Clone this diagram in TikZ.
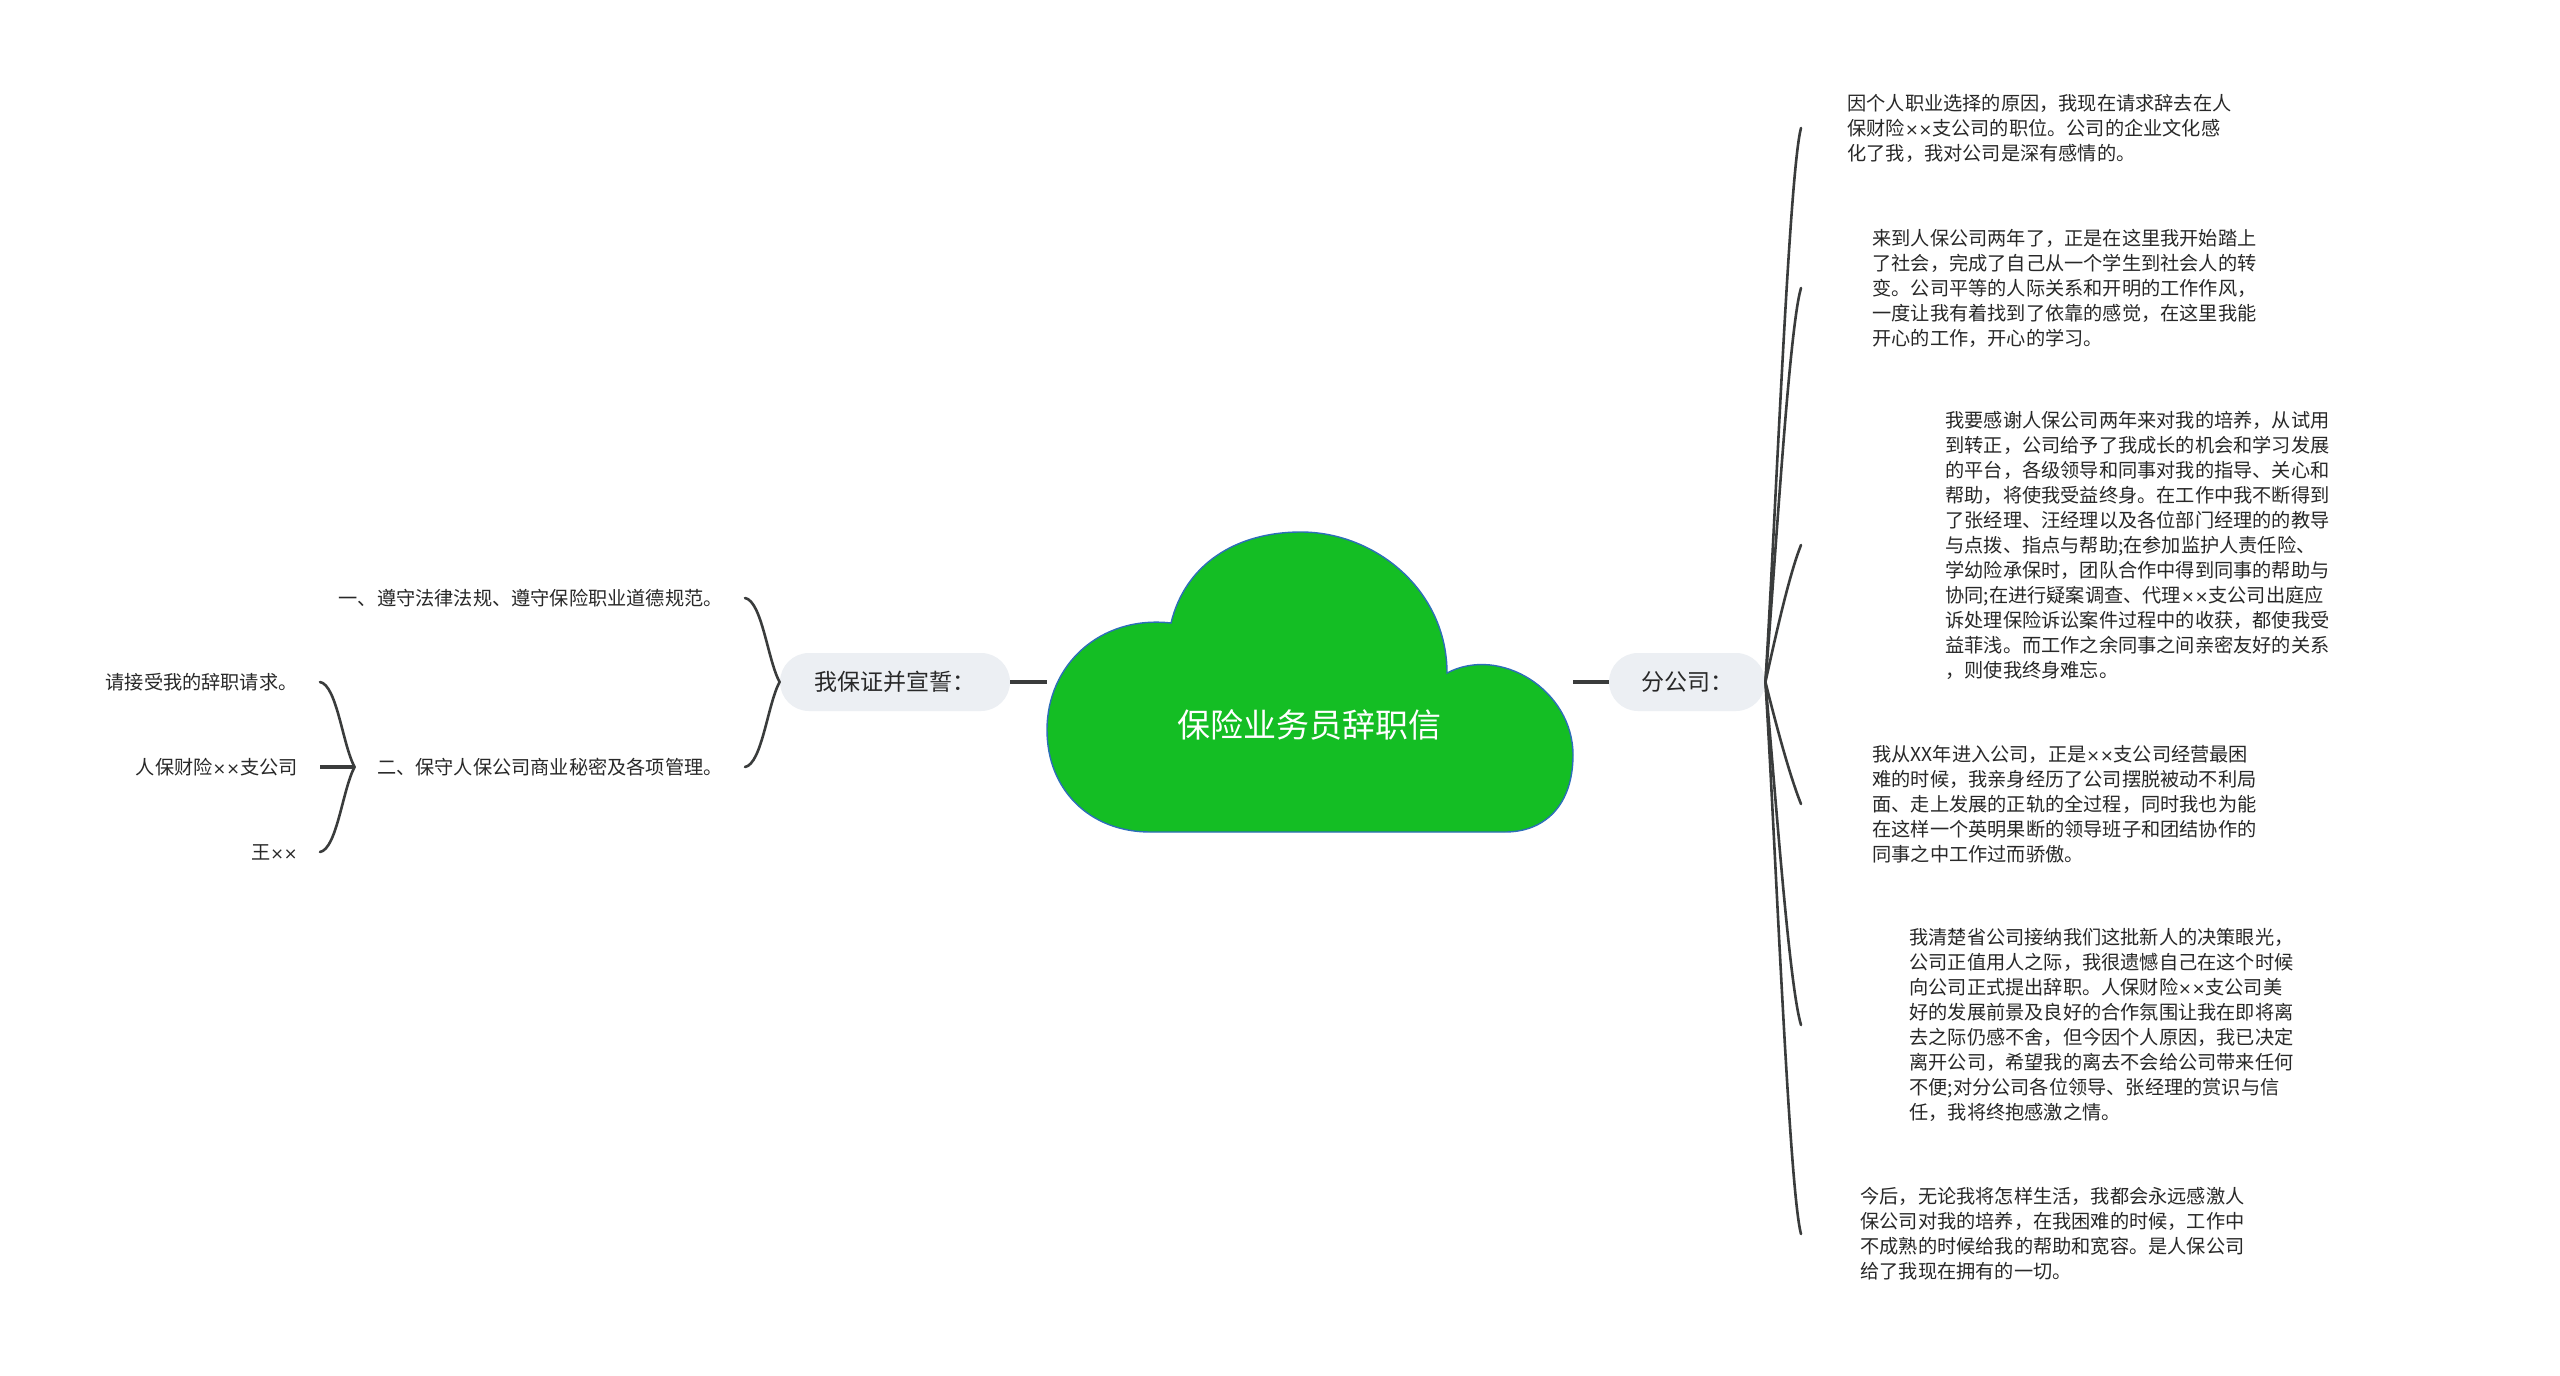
\documentclass[tikz,border=0pt]{standalone}
\usepackage{fontspec}
\setmainfont{Noto Sans CJK SC}
\newfontfamily\timesfont[Scale=0.85]{DejaVu Sans}
\newcommand{\xx}{{\timesfont ××}}
\usepackage{xcolor}
\usepackage{tikz}
\usetikzlibrary{shapes.misc, calc}
\definecolor{mapgreen}{RGB}{20, 190, 36}
\definecolor{mapblue}{RGB}{45, 110, 185}
\definecolor{pillgray}{RGB}{236, 239, 243}
\definecolor{linkgray}{RGB}{58, 60, 60}
\definecolor{textgray}{RGB}{40, 40, 40}

\begin{document}
\begin{tikzpicture}[
  x = 0.5pt, y = -0.5pt,
  every node/.style = {text=textgray},
  pill/.style      = {rounded rectangle, fill=pillgray, minimum height=29pt,
                      inner sep=0pt, font=\fontsize{11.5}{14}\selectfont},
  leaf/.style      = {inner sep=0pt, font=\fontsize{9.6}{12.5}\selectfont},
  para/.style      = {leaf, align=left, anchor=west},
  rootlabel/.style = {text=white, inner sep=0pt, font=\fontsize{16.5}{20}\selectfont},
  cloudbox/.style  = {minimum width=263pt, minimum height=150pt, inner sep=0pt},
  cloudline/.style = {fill=mapgreen, draw=mapblue, line width=0.7pt},
  stemline/.style  = {draw=linkgray, line width=1.7pt},
  link/.style      = {draw=linkgray, line width=1.3pt, line cap=round}
]

\path[fill=white, use as bounding box] (0,0) rectangle (2560,1376);

% Cloud
\node[cloudbox] (root) at (1310,682) {};
\draw[cloudline]
  (1150,832) .. controls (1090,832) and (1047,790) .. (1047,730)
  .. controls (1047,665) and (1100,615) .. (1171,623)
  .. controls (1185,565) and (1235,532) .. (1301,532)
  .. controls (1375,532) and (1447,590) .. (1447,673)
  .. controls (1500,645) and (1573,690) .. (1573,755)
  .. controls (1573,805) and (1545,832) .. (1505,832) -- cycle;
\node[rootlabel] (title) at (1309,725) {保险业务员辞职信};

% Nodes
\node[pill, minimum width=115pt] (pledge) at (895,682) {我保证并宣誓：};
\node[pill, minimum width=78pt]  (branch) at (1687,682) {分公司：};

\node[leaf, anchor=east] (rule1) at (723,598) {一、遵守法律法规、遵守保险职业道德规范。};
\node[leaf, anchor=east] (rule2) at (723,767) {二、保守人保公司商业秘密及各项管理。};
\node[leaf, anchor=east] (req)   at (298,682) {请接受我的辞职请求。};
\node[leaf, anchor=east] (corp)  at (298,767) {人保财险\xx 支公司};
\node[leaf, anchor=east] (sign)  at (298,852) {王\xx};

\node[para] (para1) at (1847,128) {因个人职业选择的原因，我现在请求辞去在人\\
  保财险\xx 支公司的职位。公司的企业文化感\\
  化了我，我对公司是深有感情的。};
\node[para] (para2) at (1872,288) {来到人保公司两年了，正是在这里我开始踏上\\
  了社会，完成了自己从一个学生到社会人的转\\
  变。公司平等的人际关系和开明的工作作风，\\
  一度让我有着找到了依靠的感觉，在这里我能\\
  开心的工作，开心的学习。};
\node[para] (para3) at (1945,545) {我要感谢人保公司两年来对我的培养，从试用\\
  到转正，公司给予了我成长的机会和学习发展\\
  的平台，各级领导和同事对我的指导、关心和\\
  帮助，将使我受益终身。在工作中我不断得到\\
  了张经理、汪经理以及各位部门经理的的教导\\
  与点拨、指点与帮助;在参加监护人责任险、\\
  学幼险承保时，团队合作中得到同事的帮助与\\
  协同;在进行疑案调查、代理\xx 支公司出庭应\\
  诉处理保险诉讼案件过程中的收获，都使我受\\
  益菲浅。而工作之余同事之间亲密友好的关系\\
  ，则使我终身难忘。};
\node[para] (para4) at (1872,804) {我从XX年进入公司，正是\xx 支公司经营最困\\
  难的时候，我亲身经历了公司摆脱被动不利局\\
  面、走上发展的正轨的全过程，同时我也为能\\
  在这样一个英明果断的领导班子和团结协作的\\
  同事之中工作过而骄傲。};
\node[para] (para5) at (1909,1025) {我清楚省公司接纳我们这批新人的决策眼光，\\
  公司正值用人之际，我很遗憾自己在这个时候\\
  向公司正式提出辞职。人保财险\xx 支公司美\\
  好的发展前景及良好的合作氛围让我在即将离\\
  去之际仍感不舍，但今因个人原因，我已决定\\
  离开公司，希望我的离去不会给公司带来任何\\
  不便;对分公司各位领导、张经理的赏识与信\\
  任，我将终抱感激之情。};
\node[para] (para6) at (1860,1234) {今后，无论我将怎样生活，我都会永远感激人\\
  保公司对我的培养，在我困难的时候，工作中\\
  不成熟的时候给我的帮助和宽容。是人保公司\\
  给了我现在拥有的一切。};

% Connectors
\draw[stemline] (pledge.east) -- (root.west);
\draw[stemline] (root.east) -- (branch.west);

\draw[link] (pledge.west) .. controls +(-12,-22) and +(17,3) .. ([xshift=11pt]rule1.east);
\draw[link] (pledge.west) .. controls +(-12,22) and +(17,-3) .. ([xshift=11pt]rule2.east);

\draw[link] ([xshift=-11pt]rule2.west) .. controls +(-12,-22) and +(17,3) .. ([xshift=11pt]req.east);
\draw[stemline] ([xshift=-11pt]rule2.west) -- ([xshift=11pt]corp.east);
\draw[link] ([xshift=-11pt]rule2.west) .. controls +(-12,22) and +(17,-3) .. ([xshift=11pt]sign.east);

\coordinate (trunk) at (1801,682);
\draw[link] (branch.east) .. controls +(10,-160) and +(-12,45) .. (para1.west -| trunk);
\draw[link] (branch.east) .. controls +(10,-120) and +(-12,40) .. (para2.west -| trunk);
\draw[link] (branch.east) .. controls +(10,-45) and +(-12,30) .. (para3.west -| trunk);
\draw[link] (branch.east) .. controls +(10,40) and +(-12,-30) .. (para4.west -| trunk);
\draw[link] (branch.east) .. controls +(10,110) and +(-12,-40) .. (para5.west -| trunk);
\draw[link] (branch.east) .. controls +(10,160) and +(-12,-45) .. (para6.west -| trunk);

\end{tikzpicture}
\end{document}
